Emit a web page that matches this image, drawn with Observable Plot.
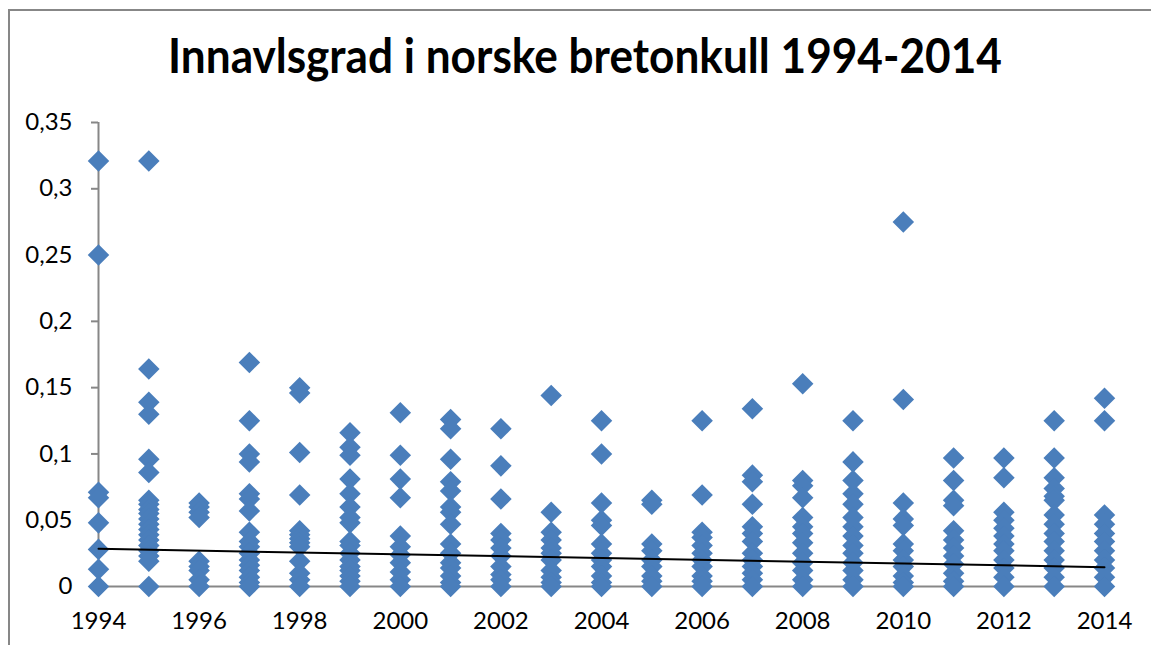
<!DOCTYPE html>
<html>
<head>
<meta charset="utf-8">
<script src="https://cdn.jsdelivr.net/npm/d3@7"></script>
<script src="https://cdn.jsdelivr.net/npm/@observablehq/plot@0.6"></script>
<style>
  html, body { margin: 0; padding: 0; background: #fff; }
  #wrap { position: relative; width: 1151px; height: 645px; overflow: hidden; background: #fff; }
  #frame { position: absolute; left: 8px; top: 9px; width: 2000px; height: 2000px;
           border-left: 2px solid #878787; border-top: 2px solid #878787; }
  #title { position: absolute; left: 585px; top: 31px; transform: translateX(-50%) scaleX(0.92);
           white-space: nowrap; font-family: "Lato", sans-serif;
           font-weight: bold; font-size: 48px; line-height: 48px; color: #000; }
  #chart { position: absolute; left: 0; top: 0; }
</style>
</head>
<body>
<div id="wrap">
  <div id="frame"></div>
  <div id="title">Innavlsgrad i norske bretonkull 1994-2014</div>
  <div id="chart"></div>
</div>
<script>
const y1994 = [0.321, 0.25, 0.071, 0.067, 0.048, 0.028, 0.013, 0];
const y1995 = [0.321, 0.164, 0.139, 0.130, 0.096, 0.086, 0.065, 0.062, 0.058, 0.055, 0.051, 0.047, 0.043, 0.039, 0.035, 0.031, 0.027, 0.023, 0.019, 0];
const y1996 = [0.063, 0.060, 0.056, 0.052, 0.019, 0.015, 0.012, 0.005, 0];
const y1997 = [0.169, 0.125, 0.100, 0.094, 0.070, 0.066, 0.057, 0.041, 0.034, 0.030, 0.025, 0.020, 0.016, 0.012, 0.007, 0.003, 0];
const y1998 = [0.150, 0.146, 0.101, 0.069, 0.042, 0.039, 0.036, 0.033, 0.030, 0.019, 0.010, 0.005, 0];
const y1999 = [0.116, 0.105, 0.099, 0.081, 0.070, 0.060, 0.052, 0.048, 0.034, 0.031, 0.025, 0.020, 0.015, 0.012, 0.008, 0.004, 0];
const y2000 = [0.131, 0.099, 0.081, 0.067, 0.038, 0.030, 0.024, 0.018, 0.011, 0.005, 0];
const y2001 = [0.126, 0.119, 0.096, 0.079, 0.072, 0.060, 0.056, 0.047, 0.032, 0.025, 0.018, 0.014, 0.008, 0.003, 0];
const y2002 = [0.119, 0.091, 0.066, 0.040, 0.035, 0.029, 0.023, 0.015, 0.009, 0.005, 0];
const y2003 = [0.144, 0.056, 0.041, 0.035, 0.029, 0.025, 0.020, 0.012, 0.007, 0.003, 0];
const y2004 = [0.125, 0.100, 0.063, 0.050, 0.046, 0.032, 0.025, 0.020, 0.015, 0.008, 0.003, 0];
const y2005 = [0.065, 0.062, 0.032, 0.027, 0.020, 0.015, 0.008, 0.004, 0];
const y2006 = [0.125, 0.069, 0.041, 0.037, 0.031, 0.025, 0.020, 0.015, 0.008, 0.004, 0];
const y2007 = [0.134, 0.084, 0.079, 0.062, 0.045, 0.040, 0.034, 0.025, 0.020, 0.015, 0.010, 0.005, 0];
const y2008 = [0.153, 0.080, 0.076, 0.067, 0.052, 0.045, 0.040, 0.033, 0.025, 0.018, 0.012, 0.005, 0];
const y2009 = [0.125, 0.094, 0.080, 0.070, 0.062, 0.052, 0.045, 0.038, 0.031, 0.025, 0.018, 0.012, 0.005, 0];
const y2010 = [0.275, 0.141, 0.063, 0.051, 0.046, 0.032, 0.027, 0.020, 0.015, 0.008, 0.003, 0];
const y2011 = [0.097, 0.080, 0.065, 0.061, 0.042, 0.035, 0.029, 0.023, 0.017, 0.010, 0.004, 0];
const y2012 = [0.097, 0.082, 0.056, 0.050, 0.044, 0.038, 0.032, 0.027, 0.020, 0.014, 0.007, 0];
const y2013 = [0.125, 0.097, 0.082, 0.074, 0.068, 0.065, 0.054, 0.047, 0.040, 0.034, 0.027, 0.020, 0.014, 0.007, 0];
const y2014 = [0.142, 0.125, 0.054, 0.047, 0.040, 0.034, 0.027, 0.020, 0.014, 0.007, 0];

const years = [1994, 1995, 1996, 1997, 1998, 1999, 2000, 2001, 2002, 2003, 2004,
               2005, 2006, 2007, 2008, 2009, 2010, 2011, 2012, 2013, 2014];
const series = [y1994, y1995, y1996, y1997, y1998, y1999, y2000, y2001, y2002, y2003, y2004,
                y2005, y2006, y2007, y2008, y2009, y2010, y2011, y2012, y2013, y2014];

const trendYears = [1994, 2014];
const trendValues = [0.0284, 0.0146];

const xTicks = [1994, 1996, 1998, 2000, 2002, 2004, 2006, 2008, 2010, 2012, 2014];
const yTicks = [0, 0.05, 0.1, 0.15, 0.2, 0.25, 0.3, 0.35];

const points = years.flatMap((yr, i) => series[i].map(v => ({year: yr, value: v})));
const trend = trendYears.map((yr, i) => ({year: yr, value: trendValues[i]}));

const fmt = d => d === 0 ? "0" : String(+d.toFixed(2)).replace(".", ",");

const chart = Plot.plot({
  width: 1151,
  height: 645,
  marginLeft: 98,
  marginRight: 47,
  marginTop: 122,
  marginBottom: 59,
  style: {fontFamily: "Lato, sans-serif", fontSize: "24px", color: "#000", background: "transparent", overflow: "visible"},
  x: {domain: [1994, 2014], ticks: xTicks, tickFormat: d => String(d), tickSize: 0, tickPadding: 25, label: null},
  y: {domain: [0, 0.35], ticks: yTicks, tickFormat: fmt, tickSize: 7, tickPadding: 19, label: null},
  marks: [
    Plot.ruleY([0], {stroke: "#878787", strokeWidth: 2}),
    Plot.ruleX([1994], {stroke: "#878787", strokeWidth: 2}),
    Plot.dot(points, {x: "year", y: "value", symbol: "diamond2", r: 9.7, fill: "#4a7ebb", stroke: "none"}),
    Plot.line(trend, {x: "year", y: "value", stroke: "#000", strokeWidth: 2})
  ]
});
document.getElementById("chart").appendChild(chart);
chart.querySelectorAll('g[aria-label="y-axis tick"] path, g[aria-label="y-axis"] path').forEach(p => {
  p.setAttribute("stroke", "#878787");
  p.setAttribute("stroke-width", "2");
});
</script>
</body>
</html>
